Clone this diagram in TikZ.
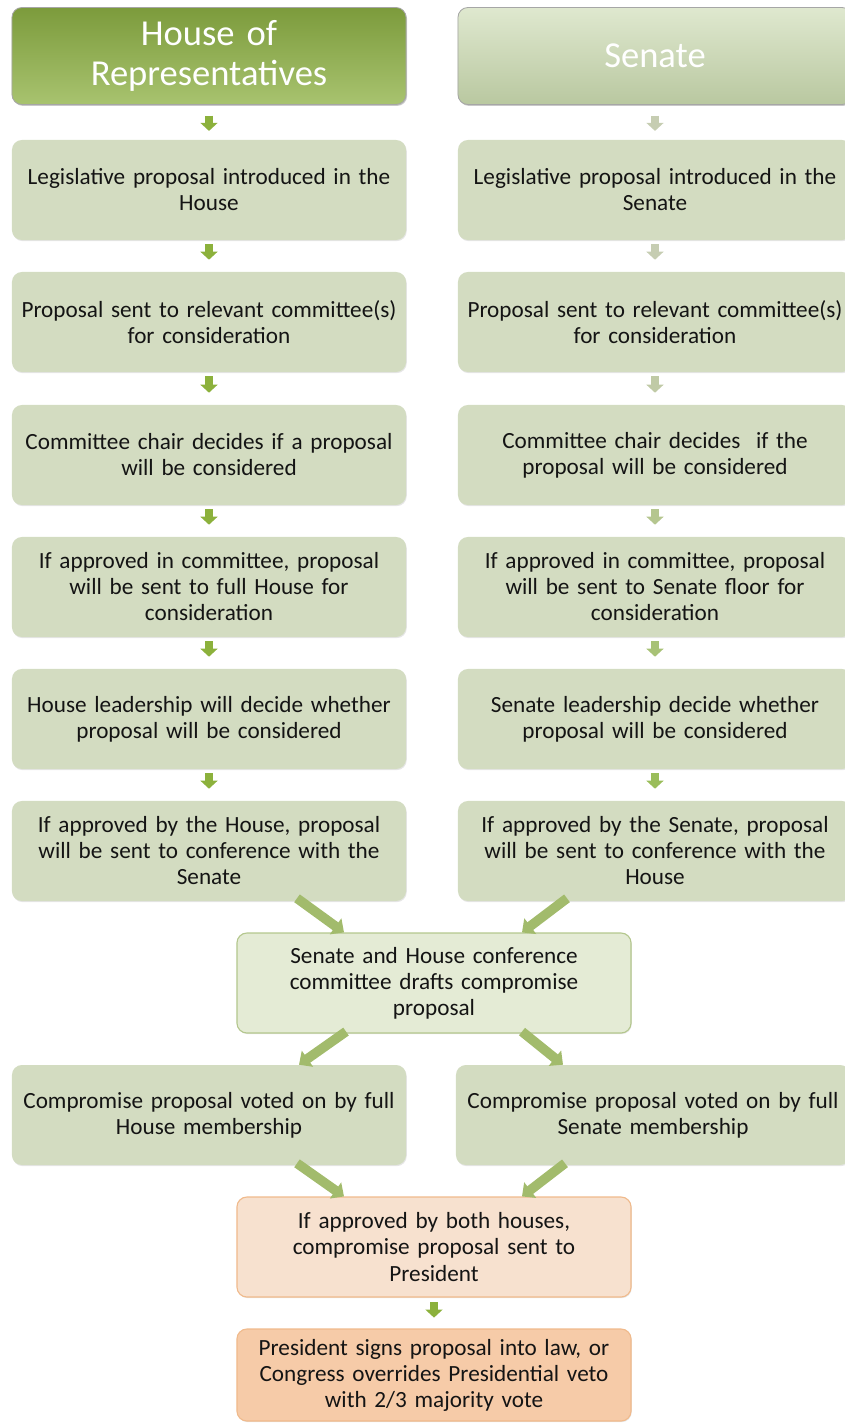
\documentclass[tikz,border=0pt]{standalone}
\usepackage{fontspec}
\setmainfont{Carlito}
\usetikzlibrary{calc,arrows.meta,shadows}

\definecolor{boxgreen}{HTML}{D3DCC1}
\definecolor{confgreen}{HTML}{E4EBD5}
\definecolor{confedge}{HTML}{B4C78E}
\definecolor{peachlight}{HTML}{F7E1CF}
\definecolor{peachdark}{HTML}{F6CBA8}
\definecolor{peachedge}{HTML}{F0BA8C}
\definecolor{arrowgreen}{HTML}{8CB13C}
\definecolor{diaggreen}{HTML}{A2BB6C}
\definecolor{housetop}{HTML}{7C9B3C}
\definecolor{housebottom}{HTML}{A8C36F}
\definecolor{senatetop}{HTML}{DFE8CF}
\definecolor{senatebottom}{HTML}{B9C8A0}
\definecolor{palearrow1}{HTML}{C6CDB2}
\definecolor{palearrow2}{HTML}{C0CAA6}
\definecolor{palearrow3}{HTML}{B5C68F}
\definecolor{palearrow4}{HTML}{A8C276}
\definecolor{palearrow5}{HTML}{9ABD5A}

\tikzset{
  box/.style={rounded corners=0.25cm, minimum width=9.85cm, minimum height=2.5cm,
    text width=9.7cm, inner sep=2pt, align=center, text=black!92,
    font=\fontsize{16.5}{18.5}\selectfont, fill=boxgreen,
    drop shadow={opacity=0.2, shadow xshift=0.5pt, shadow yshift=-0.8pt}},
  head/.style={box, minimum height=2.425cm, text=white, draw=black!35, line width=0.6pt,
    font=\fontsize{26}{29}\selectfont, drop shadow={opacity=0.35, shadow xshift=0.8pt, shadow yshift=-1pt}},
  fat/.style={line width=0.2cm, -{Triangle[width=0.42cm,length=0.2cm]}, draw=arrowgreen},
  diag/.style={line width=0.24cm, -{Triangle[width=0.48cm,length=0.26cm]}, draw=diaggreen},
}

\begin{document}
\begin{tikzpicture}[x=0.025cm, y=-0.025cm]
    %%%%% START %%%%%
    \useasboundingbox (0, 0) rectangle (845, 1423);

    \node[head, top color=housetop, bottom color=housebottom] (hh) at (209, 56) {House of\\Representatives};
    \node[head, top color=senatetop, bottom color=senatebottom] (hs) at (655, 56) {Senate};

    \node[box] (l1) at (209, 190) {Legislative proposal introduced in the\\House};
    \node[box] (l2) at (209, 322) {Proposal sent to relevant committee(s)\\for consideration};
    \node[box] (l3) at (209, 455) {Committee chair decides if a proposal\\will be considered};
    \node[box] (l4) at (209, 587) {If approved in committee, proposal\\will be sent to full House for\\consideration};
    \node[box] (l5) at (209, 719) {House leadership will decide whether\\proposal will be considered};
    \node[box] (l6) at (209, 851) {If approved by the House, proposal\\will be sent to conference with the\\Senate};

    \node[box] (r1) at (655, 190) {Legislative proposal introduced in the\\Senate};
    \node[box] (r2) at (655, 322) {Proposal sent to relevant committee(s)\\for consideration};
    \node[box] (r3) at (655, 455) {Committee chair decides\ \ if the\\proposal will be considered};
    \node[box] (r4) at (655, 587) {If approved in committee, proposal\\will be sent to Senate floor for\\consideration};
    \node[box] (r5) at (655, 719) {Senate leadership decide whether\\proposal will be considered};
    \node[box] (r6) at (655, 851) {If approved by the Senate, proposal\\will be sent to conference with the\\House};

    \node[box, fill=confgreen, draw=confedge, line width=0.8pt] (conf) at (434, 983) {Senate and House conference\\committee drafts compromise\\proposal};

    \node[box] (l7) at (209, 1115) {Compromise proposal voted on by full\\House membership};
    \node[box] (r7) at (653, 1115) {Compromise proposal voted on by full\\Senate membership};

    \node[box, fill=peachlight, draw=peachedge, line width=0.8pt] (pres) at (434, 1247) {If approved by both houses,\\compromise proposal sent to\\President};
    \node[box, fill=peachdark, draw=peachedge, line width=0.8pt, minimum height=2.3cm] (law) at (434, 1375) {President signs proposal into law, or\\Congress overrides Presidential\ veto\\with 2/3 majority vote};

    % small arrows down the columns
    \draw[fat, shorten <=0.27cm, shorten >=0.22cm] (hh) -- (l1);
    \draw[fat, shorten <=0.1cm, shorten >=0.3cm] (l1) -- (l2);
    \draw[fat, shorten <=0.1cm, shorten >=0.3cm] (l2) -- (l3);
    \draw[fat, shorten <=0.1cm, shorten >=0.3cm] (l3) -- (l4);
    \draw[fat, shorten <=0.1cm, shorten >=0.3cm] (l4) -- (l5);
    \draw[fat, shorten <=0.1cm, shorten >=0.3cm] (l5) -- (l6);

    \draw[fat, draw=palearrow1, shorten <=0.27cm, shorten >=0.22cm] (hs) -- (r1);
    \draw[fat, draw=palearrow1, shorten <=0.1cm, shorten >=0.3cm] (r1) -- (r2);
    \draw[fat, draw=palearrow2, shorten <=0.1cm, shorten >=0.3cm] (r2) -- (r3);
    \draw[fat, draw=palearrow3, shorten <=0.1cm, shorten >=0.3cm] (r3) -- (r4);
    \draw[fat, draw=palearrow4, shorten <=0.1cm, shorten >=0.3cm] (r4) -- (r5);
    \draw[fat, draw=palearrow5, shorten <=0.1cm, shorten >=0.3cm] (r5) -- (r6);

    % slanted arrows to and from the conference
    \draw[diag] ($(l6.south)+(88, -3)$) -- ($(conf.north)+(-90, 0)$);
    \draw[diag] ($(r6.south)+(-88, -3)$) -- ($(conf.north)+(88, 0)$);
    \draw[diag] ($(conf.south)+(-88, -2)$) -- ($(l7.north)+(90, 0)$);
    \draw[diag] ($(conf.south)+(88, -2)$) -- ($(r7.north)+(-90, 0)$);
    \draw[diag] ($(l7.south)+(88, -2)$) -- ($(pres.north)+(-90, 0)$);
    \draw[diag] ($(r7.south)+(-88, -2)$) -- ($(pres.north)+(88, 0)$);

    \draw[fat, shorten <=0.12cm, shorten >=0.27cm] (pres) -- (law);
    %%%%% END %%%%%
\end{tikzpicture}
\end{document}
